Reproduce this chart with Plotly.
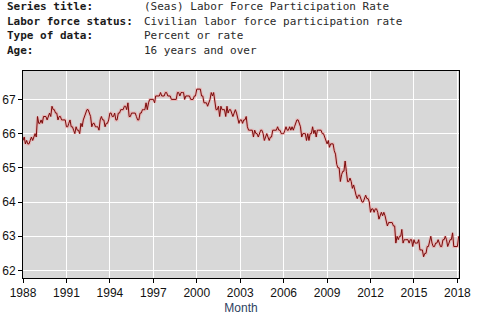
import plotly.graph_objects as go
import pandas as pd

# ---- data ----
start_month = "1988-01-01"
lfpr = [
    65.8, 65.9, 65.7, 65.8, 65.7, 65.7, 65.8, 65.9, 65.8, 65.9, 66.0, 65.9,  # 1988
    66.5, 66.3, 66.3, 66.4, 66.3, 66.5, 66.5, 66.5, 66.4, 66.5, 66.6, 66.5,  # 1989
    66.8, 66.7, 66.7, 66.6, 66.6, 66.4, 66.5, 66.5, 66.4, 66.4, 66.4, 66.4,  # 1990
    66.2, 66.2, 66.3, 66.4, 66.2, 66.2, 66.1, 66.0, 66.2, 66.1, 66.1, 66.0,  # 1991
    66.3, 66.2, 66.4, 66.5, 66.6, 66.7, 66.7, 66.6, 66.5, 66.2, 66.3, 66.3,  # 1992
    66.2, 66.2, 66.2, 66.1, 66.4, 66.5, 66.4, 66.4, 66.2, 66.3, 66.3, 66.4,  # 1993
    66.6, 66.6, 66.5, 66.5, 66.6, 66.4, 66.4, 66.6, 66.6, 66.7, 66.7, 66.7,  # 1994
    66.8, 66.8, 66.7, 66.9, 66.5, 66.5, 66.6, 66.6, 66.6, 66.6, 66.5, 66.4,  # 1995
    66.4, 66.6, 66.6, 66.7, 66.7, 66.7, 66.9, 66.7, 66.9, 67.0, 67.0, 67.0,  # 1996
    67.0, 66.9, 67.1, 67.1, 67.1, 67.1, 67.2, 67.1, 67.1, 67.1, 67.2, 67.2,  # 1997
    67.1, 67.1, 67.1, 67.0, 67.0, 67.0, 67.0, 67.0, 67.2, 67.2, 67.1, 67.2,  # 1998
    67.2, 67.2, 67.0, 67.1, 67.1, 67.1, 67.1, 67.0, 67.0, 67.0, 67.1, 67.1,  # 1999
    67.3, 67.3, 67.3, 67.3, 67.1, 67.1, 66.9, 66.9, 66.9, 66.8, 66.9, 67.0,  # 2000
    67.2, 67.1, 67.2, 66.9, 66.7, 66.7, 66.8, 66.5, 66.8, 66.7, 66.7, 66.7,  # 2001
    66.5, 66.8, 66.6, 66.7, 66.7, 66.6, 66.5, 66.6, 66.7, 66.6, 66.4, 66.3,  # 2002
    66.4, 66.4, 66.3, 66.4, 66.4, 66.5, 66.2, 66.1, 66.1, 66.1, 66.1, 65.9,  # 2003
    66.1, 66.0, 66.0, 65.9, 66.0, 66.1, 66.1, 66.0, 65.8, 65.9, 66.0, 65.9,  # 2004
    65.8, 65.9, 65.9, 66.1, 66.1, 66.1, 66.1, 66.2, 66.1, 66.1, 66.0, 66.0,  # 2005
    66.0, 66.1, 66.2, 66.1, 66.1, 66.2, 66.1, 66.2, 66.1, 66.2, 66.3, 66.4,  # 2006
    66.4, 66.3, 66.2, 65.9, 66.0, 66.0, 66.0, 65.8, 66.0, 65.8, 66.0, 66.0,  # 2007
    66.2, 66.0, 66.1, 65.9, 66.1, 66.1, 66.1, 66.1, 66.0, 66.0, 65.9, 65.8,  # 2008
    65.7, 65.8, 65.6, 65.7, 65.7, 65.7, 65.5, 65.4, 65.1, 65.0, 65.0, 64.6,  # 2009
    64.8, 64.9, 64.9, 65.2, 64.9, 64.6, 64.6, 64.7, 64.6, 64.4, 64.5, 64.3,  # 2010
    64.2, 64.1, 64.2, 64.2, 64.1, 64.0, 64.0, 64.1, 64.2, 64.1, 64.1, 64.0,  # 2011
    63.7, 63.8, 63.8, 63.7, 63.8, 63.8, 63.7, 63.5, 63.6, 63.7, 63.6, 63.7,  # 2012
    63.6, 63.4, 63.3, 63.4, 63.4, 63.4, 63.4, 63.3, 63.3, 62.8, 63.0, 62.9,  # 2013
    63.0, 63.0, 63.2, 62.8, 62.9, 62.9, 62.9, 62.9, 62.8, 62.9, 62.9, 62.7,  # 2014
    62.9, 62.8, 62.8, 62.8, 62.9, 62.6, 62.6, 62.6, 62.4, 62.5, 62.5, 62.7,  # 2015
    62.7, 62.9, 63.0, 62.8, 62.7, 62.7, 62.8, 62.8, 62.9, 62.8, 62.7, 62.7,  # 2016
    62.9, 62.9, 63.0, 62.9, 62.7, 62.8, 62.9, 62.9, 63.1, 62.7, 62.7, 62.7,  # 2017
    62.7, 63.0,                                                              # 2018
]
x_tick_years = ["1988", "1991", "1994", "1997", "2000", "2003", "2006", "2009", "2012", "2015", "2018"]
y_ticks = [62, 63, 64, 65, 66, 67]
header_labels = ["Series title:", "Labor force status:", "Type of data:", "Age:"]
header_values = ["(Seas) Labor Force Participation Rate",
                 "Civilian labor force participation rate",
                 "Percent or rate",
                 "16 years and over"]

months = pd.date_range(start_month, periods=len(lfpr), freq="MS")

W, H = 482, 322
L, R, T, B = 23, 23, 71, 44
pw, ph = W - L - R, H - T - B

fig = go.Figure()
# soft halo under the line
fig.add_trace(go.Scatter(x=months, y=lfpr, mode="lines",
                         line=dict(color="rgba(255,120,120,0.35)", width=3),
                         hoverinfo="skip", showlegend=False))
fig.add_trace(go.Scatter(x=months, y=lfpr, mode="lines",
                         line=dict(color="#7a0a0a", width=1),
                         showlegend=False))

# header text
mono = "DejaVu Sans Mono"
for i, (lab, val) in enumerate(zip(header_labels, header_values)):
    ypix = 7 + i * 14.4
    yp = 1 + (T - ypix) / ph
    fig.add_annotation(x=(5 - L) / pw, y=yp, xref="paper", yref="paper",
                       text="<b>" + lab + "</b>", showarrow=False,
                       xanchor="left", yanchor="middle",
                       font=dict(family=mono, size=11, color="#1a1a1a"))
    fig.add_annotation(x=(142 - L) / pw, y=yp, xref="paper", yref="paper",
                       text=val, showarrow=False,
                       xanchor="left", yanchor="middle",
                       font=dict(family=mono, size=11, color="#2a2a2a"))

fig.update_layout(
    width=W, height=H, autosize=False,
    margin=dict(l=L, r=R, t=T, b=B, pad=0, autoexpand=False),
    paper_bgcolor="white", plot_bgcolor="#d8d8d8",
    font=dict(family="Liberation Sans, Arial, sans-serif", size=12, color="#111"),
    xaxis=dict(
        type="date", automargin=False,
        range=["1988-01-01", "2018-02-10"],
        tickvals=[pd.Timestamp(y + "-01-01") for y in x_tick_years],
        ticktext=x_tick_years,
        ticks="outside", ticklen=4, tickcolor="black",
        showgrid=True, gridcolor="white", gridwidth=1,
        showline=True, linecolor="black", linewidth=1, mirror=True,
        zeroline=False,
        tickfont=dict(size=12, color="#111"),
        title=dict(text="Month", standoff=4,
                   font=dict(size=12, color="#2f3f5f")),
    ),
    yaxis=dict(
        automargin=False,
        range=[61.78, 67.83],
        tickvals=y_ticks,
        ticks="outside", ticklen=4, tickcolor="black",
        showgrid=True, gridcolor="white", gridwidth=1,
        showline=True, linecolor="black", linewidth=1, mirror=True,
        zeroline=False,
        tickfont=dict(size=12, color="#111"),
    ),
)

fig.write_html("out.html")
